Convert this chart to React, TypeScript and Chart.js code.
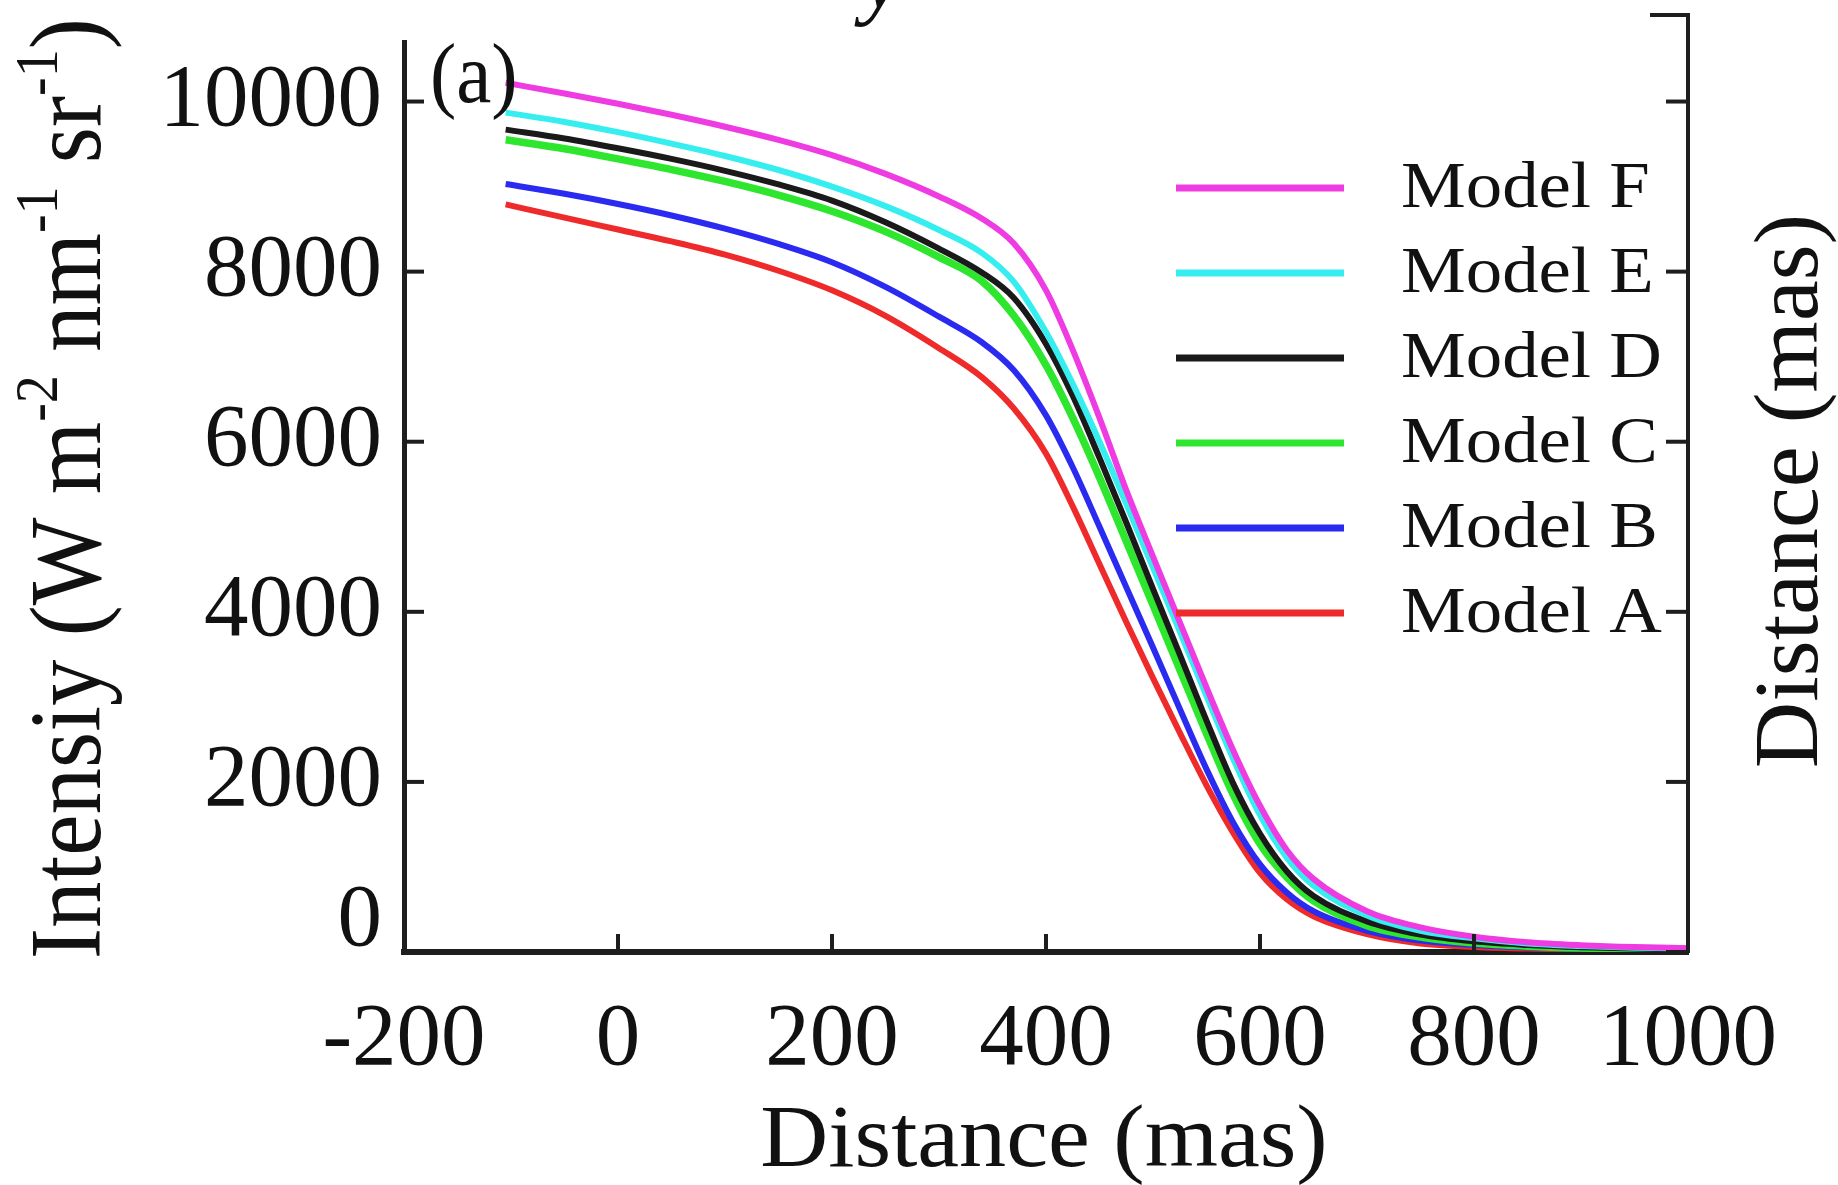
import React, { useEffect, useRef } from 'react';
import { Chart, registerables } from 'chart.js';

Chart.register(...registerables);

const FONT = "'Liberation Serif', 'Times New Roman', Times, serif";
const AXIS_COLOR = '#1e1e1e';

// Distance (mas) sample positions shared by all models
const distance = [-105, -50, 0, 50, 100, 150, 200, 250, 300, 340, 370, 400, 425, 450, 475, 500, 525, 550, 575, 600, 625, 650, 700, 750, 800, 850, 900, 950, 1000];

// Intensity values per model
const modelF = [10220, 10094, 9974, 9844, 9704, 9549, 9369, 9149, 8884, 8624, 8330, 7780, 7080, 6280, 5430, 4650, 3880, 3110, 2370, 1720, 1200, 860, 480, 290, 180, 115, 80, 58, 45];
const modelE = [9870, 9760, 9640, 9505, 9360, 9195, 9000, 8770, 8490, 8220, 7880, 7290, 6680, 6000, 5270, 4520, 3770, 3010, 2270, 1610, 1110, 780, 430, 250, 160, 100, 70, 50, 40];
const modelD = [9670, 9565, 9450, 9325, 9185, 9025, 8835, 8580, 8270, 7990, 7690, 7150, 6540, 5810, 5050, 4270, 3500, 2720, 1980, 1390, 950, 660, 360, 205, 125, 82, 56, 40, 30];
const modelC = [9550, 9445, 9325, 9200, 9060, 8900, 8710, 8470, 8170, 7890, 7480, 6900, 6280, 5580, 4830, 4080, 3320, 2570, 1850, 1270, 880, 600, 310, 175, 105, 68, 46, 35, 25];
const modelB = [9030, 8915, 8795, 8660, 8505, 8325, 8110, 7820, 7470, 7170, 6840, 6310, 5700, 5000, 4290, 3580, 2860, 2150, 1520, 1030, 700, 480, 250, 135, 82, 52, 38, 30, 22];
const modelA = [8790, 8635, 8495, 8355, 8200, 8010, 7780, 7480, 7100, 6760, 6390, 5860, 5240, 4560, 3880, 3220, 2580, 1960, 1400, 930, 620, 420, 210, 100, 60, 40, 30, 25, 20];

const seriesLabels = ['Model F', 'Model E', 'Model D', 'Model C', 'Model B', 'Model A'];
const seriesValues = [modelF, modelE, modelD, modelC, modelB, modelA];
const seriesColors = ['#ee3ce2', '#36eef0', '#1a1a1a', '#2ee62e', '#2a2af0', '#ee2a2a'];
const seriesWidths = [6, 6, 6, 7.5, 6, 6];

const xTicks = [-200, 0, 200, 400, 600, 800, 1000];
const yTicks = [0, 2000, 4000, 6000, 8000, 10000];

const overlay = {
  id: 'overlay',
  afterDraw(chart: any) {
    const { ctx, chartArea, scales } = chart;
    const xS = scales.x;
    const yS = scales.y;
    const L = chartArea.left, R = chartArea.right, T = chartArea.top, B = chartArea.bottom;
    const line = (x1: number, y1: number, x2: number, y2: number) => {
      ctx.beginPath();
      ctx.moveTo(x1, y1);
      ctx.lineTo(x2, y2);
      ctx.stroke();
    };
    ctx.save();
    ctx.strokeStyle = AXIS_COLOR;
    ctx.lineCap = 'butt';
    ctx.lineWidth = 4;
    // inward tick marks
    xTicks.forEach((v) => {
      const px = xS.getPixelForValue(v);
      line(px, B, px, B - 18);
    });
    yTicks.forEach((v) => {
      const py = yS.getPixelForValue(v);
      line(L, py, L + 20, py);
      line(R, py, R - 22, py);
    });
    // right axis extension with cap
    line(R, T + 2, R, 13);
    line(R - 38, 15, R + 2, 15);

    // y tick labels
    ctx.fillStyle = '#111';
    ctx.font = `89px ${FONT}`;
    ctx.textAlign = 'right';
    ctx.textBaseline = 'middle';
    yTicks.forEach((v) => {
      let py = yS.getPixelForValue(v);
      if (v === 0) py -= 30;
      ctx.fillText(String(v), L - 22, py);
    });

    // y axis title (left) with superscripts
    ctx.save();
    ctx.translate(100, 959);
    ctx.scale(1.1, 1);
    ctx.rotate(-Math.PI / 2);
    ctx.textAlign = 'left';
    ctx.textBaseline = 'alphabetic';
    const big = 93;
    const small = 56;
    const segs: [string, boolean][] = [
      ['Intensiy (W m', false],
      ['-2', true],
      [' nm', false],
      ['-1', true],
      [' sr', false],
      ['-1', true],
      [')', false],
    ];
    let cx = 0;
    segs.forEach(([t, sup]) => {
      ctx.font = `${sup ? small : big}px ${FONT}`;
      ctx.fillText(t, cx, sup ? -big * 0.42 : 0);
      cx += ctx.measureText(t).width;
    });
    ctx.restore();

    // right axis title
    ctx.save();
    ctx.translate(1817, 491);
    ctx.rotate(-Math.PI / 2);
    ctx.textAlign = 'center';
    ctx.textBaseline = 'alphabetic';
    ctx.font = `92px ${FONT}`;
    ctx.fillText('Distance (mas)', 0, 0);
    ctx.restore();

    // x axis title
    ctx.save();
    ctx.translate((L + R) / 2 - 2, 1166);
    ctx.scale(1.07, 1);
    ctx.textAlign = 'center';
    ctx.textBaseline = 'alphabetic';
    ctx.font = `88px ${FONT}`;
    ctx.fillText('Distance (mas)', 0, 0);
    ctx.restore();

    // panel label
    ctx.save();
    ctx.translate(430, 102);
    ctx.scale(0.94, 1);
    ctx.textAlign = 'left';
    ctx.textBaseline = 'alphabetic';
    ctx.font = `84px ${FONT}`;
    ctx.fillText('(a)', 0, 0);
    ctx.restore();

    // cut-off glyph at the top
    ctx.save();
    ctx.textAlign = 'left';
    ctx.textBaseline = 'alphabetic';
    ctx.font = `italic 90px ${FONT}`;
    ctx.fillText('y', 862, 8);
    ctx.restore();

    // legend
    const legendTop = 188;
    const legendStep = 85;
    chart.data.datasets.forEach((ds: any, i: number) => {
      const ly = legendTop + i * legendStep;
      ctx.strokeStyle = ds.borderColor;
      ctx.lineWidth = 7;
      line(1176, ly, 1344, ly);
      ctx.save();
      ctx.translate(1401, ly + 19);
      ctx.scale(1.12, 1);
      ctx.fillStyle = '#111';
      ctx.font = `65px ${FONT}`;
      ctx.textAlign = 'left';
      ctx.textBaseline = 'alphabetic';
      ctx.fillText(ds.label, 0, 0);
      ctx.restore();
    });
    ctx.restore();
  },
};

export default function App() {
  const canvasRef = useRef<HTMLCanvasElement | null>(null);

  useEffect(() => {
    document.body.style.margin = '0';
    const canvas = canvasRef.current;
    if (!canvas) return;
    const datasets = seriesLabels.map((label, i) => ({
      label,
      data: distance.map((d, j) => ({ x: d, y: seriesValues[i][j] })),
      borderColor: seriesColors[i],
      backgroundColor: seriesColors[i],
      borderWidth: seriesWidths[i],
      pointRadius: 0,
      cubicInterpolationMode: 'monotone' as const,
      fill: false,
    }));
    const chart = new Chart(canvas, {
      type: 'line',
      data: { datasets },
      options: {
        responsive: false,
        animation: false,
        devicePixelRatio: 1,
        layout: { padding: { top: 42, left: 0, right: 0, bottom: 0 } },
        plugins: {
          legend: { display: false },
          tooltip: { enabled: false },
          title: { display: false },
        },
        scales: {
          x: {
            type: 'linear',
            position: 'bottom',
            min: -200,
            max: 1000,
            afterFit: (s: any) => {
              s.height = 233;
            },
            afterBuildTicks: (s: any) => {
              s.ticks = xTicks.map((v) => ({ value: v }));
            },
            ticks: {
              color: '#111',
              font: { family: FONT, size: 89, lineHeight: 1.2 },
              padding: 35,
              autoSkip: false,
              maxRotation: 0,
              callback: (v: any) => String(v),
            },
            grid: { display: false, drawTicks: false },
            border: { display: true, color: AXIS_COLOR, width: 6 },
          },
          y: {
            type: 'linear',
            position: 'left',
            min: 0,
            max: 10700,
            afterFit: (s: any) => {
              s.width = 404;
            },
            afterBuildTicks: (s: any) => {
              s.ticks = yTicks.map((v) => ({ value: v }));
            },
            ticks: { display: false },
            grid: { display: false, drawTicks: false },
            border: { display: true, color: AXIS_COLOR, width: 5 },
          },
          y2: {
            type: 'linear',
            position: 'right',
            min: 0,
            max: 10700,
            afterFit: (s: any) => {
              s.width = 150;
            },
            ticks: { display: false },
            grid: { display: false, drawTicks: false },
            border: { display: true, color: AXIS_COLOR, width: 4 },
          },
        },
      },
      plugins: [overlay],
    });
    return () => chart.destroy();
  }, []);

  return (
    <div style={{ width: 1838, height: 1185, background: '#fff' }}>
      <canvas ref={canvasRef} width={1838} height={1185} style={{ display: 'block' }} />
    </div>
  );
}
